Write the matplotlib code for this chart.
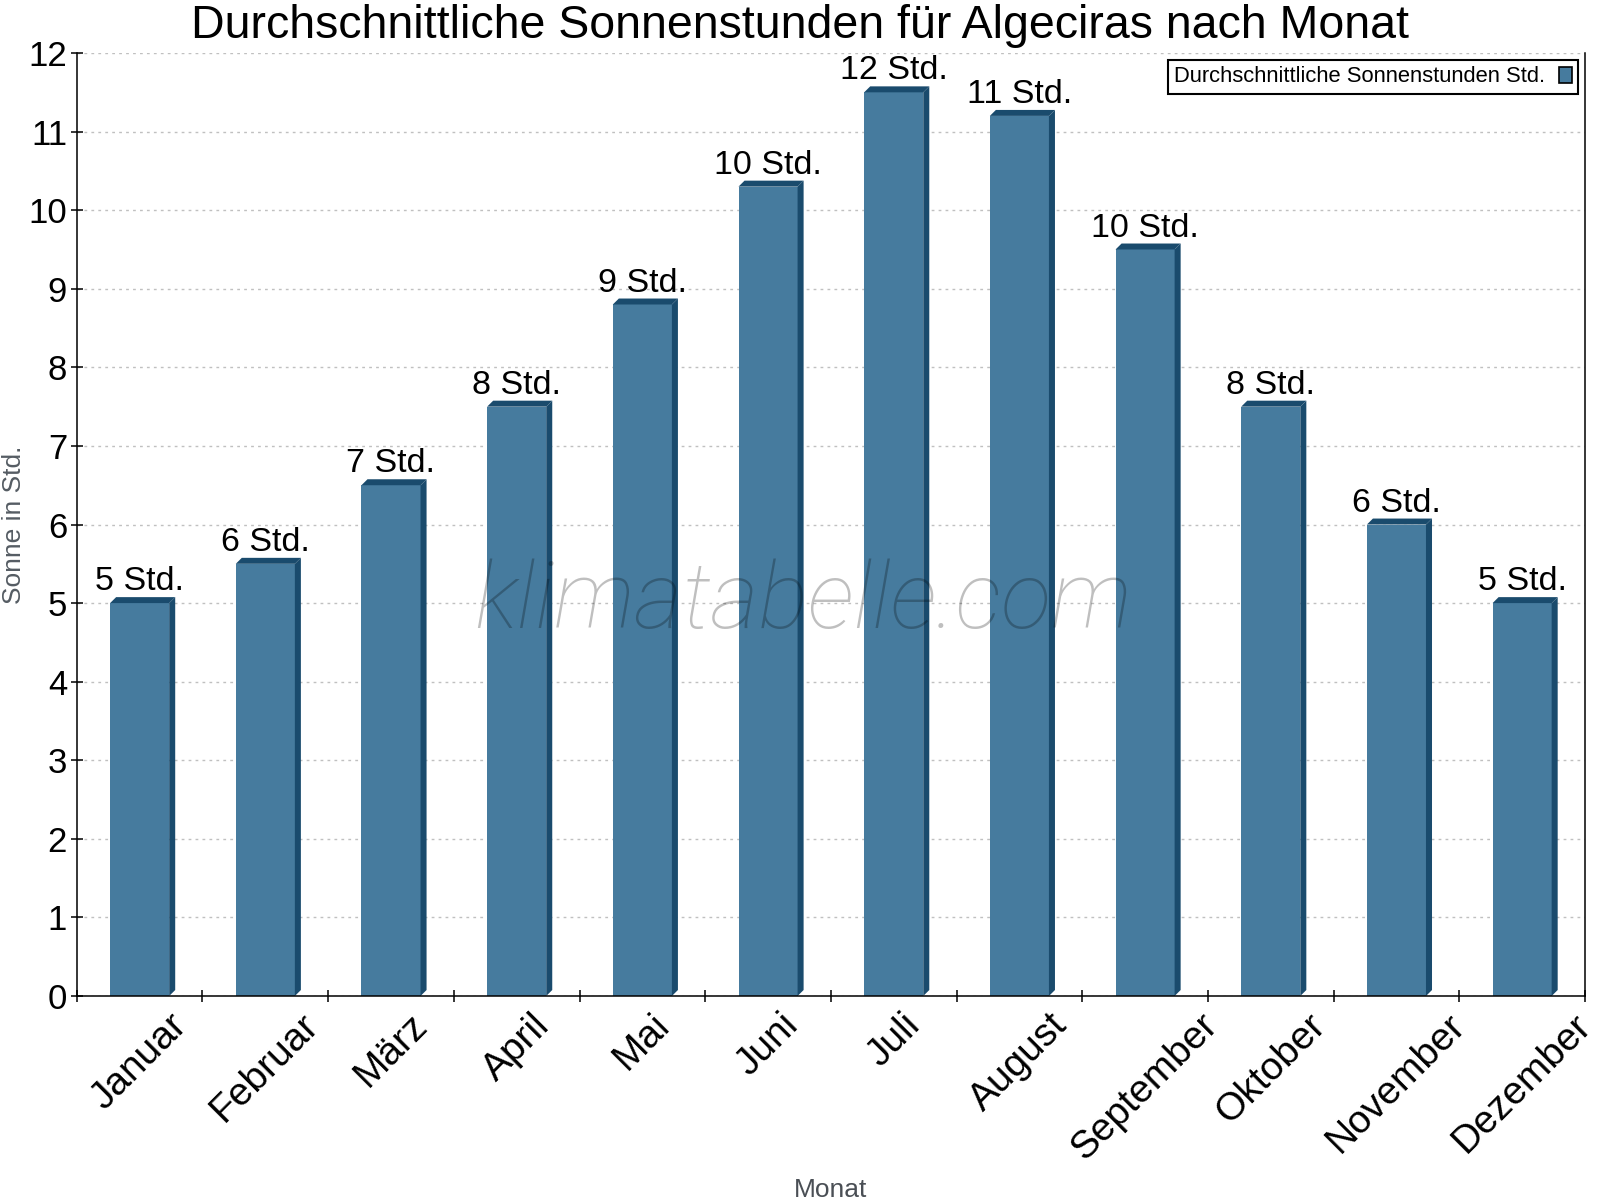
import matplotlib
matplotlib.use("Agg")
import matplotlib.pyplot as plt
import numpy as np

plt.rcParams['font.family'] = ['Liberation Sans', 'DejaVu Sans']

months = ["Januar", "Februar", "März", "April", "Mai", "Juni", "Juli",
          "August", "September", "Oktober", "November", "Dezember"]
sun_hours = [5.0, 5.5, 6.5, 7.5, 8.8, 10.3, 11.5, 11.2, 9.5, 7.5, 6.0, 5.0]
series_name = "Durchschnittliche Sonnenstunden Std."

front_col = '#467b9e'
dark_col = '#1a4b6d'

fig = plt.figure(figsize=(16, 12), dpi=100)
ax = fig.add_axes([0.048, 0.17, 0.9426, 0.7858])

x = np.arange(len(months))
w = 0.47
dx = 0.048   # depth of the fake 3d side
dy = 0.076

ax.bar(x, sun_hours, width=w, color=front_col, zorder=2, label=series_name)
for xi, v in zip(x, sun_hours):
    r = xi + w / 2
    l = xi - w / 2
    # side face
    ax.fill([r, r + dx, r + dx, r], [0, dy, v + dy, v], color=dark_col, lw=0, zorder=2)
    # top face
    ax.fill([l, l + dx, r + dx, r], [v, v + dy, v + dy, v], color=dark_col, lw=0, zorder=2)
    ax.text(xi, v + dy, f"{int(np.floor(v + 0.5))} Std.", ha='center', va='bottom',
            fontsize=24.5, color='black', zorder=4)

ax.set_xlim(-0.5, len(months) - 0.5)
ax.set_ylim(0, 12)
ax.set_yticks(range(0, 13))
ax.set_xticks(x)
ax.set_xticklabels(months, rotation=45, ha='center', fontsize=28)
ax.set_xticks(np.arange(-0.5, len(months), 1), minor=True)
ax.tick_params(axis='x', which='major', length=0, pad=8)
ax.tick_params(axis='x', which='minor', direction='inout', length=8, width=1.1)
ax.tick_params(axis='y', direction='inout', length=8, width=1.1, labelsize=25, pad=3)

ax.grid(axis='y', color='#c0c0c0', linestyle=(0, (2, 3)), linewidth=1)
ax.set_axisbelow(True)

ax.spines['top'].set_visible(False)
for s in ['left', 'right', 'bottom']:
    ax.spines[s].set_linewidth(1.1)
    ax.spines[s].set_color('black')

ax.set_ylabel("Sonne in Std.", fontsize=19, color='#555c63', labelpad=2)
ax.set_xlabel("Monat", fontsize=19, color='#4a4f55', labelpad=8)

leg = ax.legend(loc='upper right', markerfirst=False, fontsize=15.8, fancybox=False,
                framealpha=1, edgecolor='black', handlelength=0.6, handleheight=0.75,
                borderaxespad=0.3, borderpad=0.3, handletextpad=0.6)
leg.get_frame().set_linewidth(1.5)
for p in leg.get_patches():
    p.set_edgecolor('black')
    p.set_linewidth(1.2)

fig.text(0.5, 0.997, "Durchschnittliche Sonnenstunden für Algeciras nach Monat",
         ha='center', va='top', fontsize=33.5)

fig.text(0.502, 0.498, "klimatabelle.com", ha='center', va='center', fontsize=67,
         family=['Roboto', 'DejaVu Sans'], fontweight='light', style='italic',
         color='black', alpha=0.25, zorder=10)

fig.savefig("out.png", dpi=100)
